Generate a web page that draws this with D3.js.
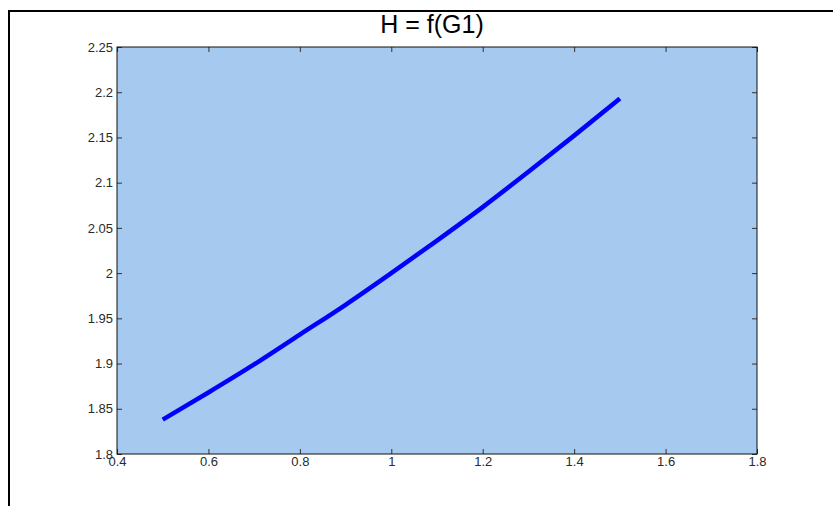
<!DOCTYPE html>
<html>
<head>
<meta charset="utf-8">
<script src="https://cdn.jsdelivr.net/npm/d3@7"></script>
<style>
  body { margin: 0; background: #fff; }
  svg { display: block; }
  .tick text { font-family: "Liberation Sans", Arial, sans-serif; font-size: 13px; fill: #2a2a2a; }
</style>
</head>
<body>
<div id="chart"></div>
<script>
// Values
const gValues = [0.5, 0.6, 0.7, 0.8, 0.9, 1.0, 1.1, 1.2, 1.3, 1.4, 1.5];
const hValues = [1.838, 1.868, 1.899, 1.932, 1.965, 2.000, 2.036, 2.073, 2.112, 2.152, 2.193];
const xTicks = [0.4, 0.6, 0.8, 1, 1.2, 1.4, 1.6, 1.8];
const yTicks = [1.8, 1.85, 1.9, 1.95, 2, 2.05, 2.1, 2.15, 2.2, 2.25];
const title = "H = f(G1)";

const width = 833, height = 506;
const margin = { top: 47, right: 76, bottom: 52, left: 117 };

const svg = d3.select("#chart")
    .append("svg")
    .attr("width", width)
    .attr("height", height);

// outer figure frame (runs off the right/bottom edge)
svg.append("rect")
    .attr("x", 9).attr("y", 11)
    .attr("width", 900).attr("height", 600)
    .attr("fill", "none")
    .attr("stroke", "#000")
    .attr("stroke-width", 2);

const x = d3.scaleLinear().domain([0.4, 1.8]).range([margin.left, width - margin.right]);
const y = d3.scaleLinear().domain([1.8, 2.25]).range([height - margin.bottom, margin.top]);

// plot background
svg.append("rect")
    .attr("x", x(0.4)).attr("y", y(2.25))
    .attr("width", x(1.8) - x(0.4))
    .attr("height", y(1.8) - y(2.25))
    .attr("fill", "#a6c9ef");

const fmt = d => String(+d.toFixed(2));

// bottom + left axes with inward ticks
svg.append("g")
    .attr("transform", `translate(0,${y(1.8)})`)
    .call(d3.axisBottom(x).tickValues(xTicks).tickFormat(fmt).tickSizeInner(-5).tickSizeOuter(0).tickPadding(3))
    .call(g => g.select(".domain").remove());

svg.append("g")
    .attr("transform", `translate(${x(0.4)},0)`)
    .call(d3.axisLeft(y).tickValues(yTicks).tickFormat(fmt).tickSizeInner(-5).tickSizeOuter(0).tickPadding(4))
    .call(g => g.select(".domain").remove());

// top + right ticks, no labels
svg.append("g")
    .attr("transform", `translate(0,${y(2.25)})`)
    .call(d3.axisTop(x).tickValues(xTicks).tickFormat("").tickSizeInner(-5).tickSizeOuter(0))
    .call(g => g.select(".domain").remove());

svg.append("g")
    .attr("transform", `translate(${x(1.8)},0)`)
    .call(d3.axisRight(y).tickValues(yTicks).tickFormat("").tickSizeInner(-5).tickSizeOuter(0))
    .call(g => g.select(".domain").remove());

svg.selectAll(".tick line").attr("stroke", "#333");

// axes box
svg.append("rect")
    .attr("x", x(0.4)).attr("y", y(2.25))
    .attr("width", x(1.8) - x(0.4))
    .attr("height", y(1.8) - y(2.25))
    .attr("fill", "none")
    .attr("stroke", "#111")
    .attr("stroke-width", 1);

// the curve
const line = d3.line()
    .x((d, i) => x(gValues[i]))
    .y(d => y(d))
    .curve(d3.curveMonotoneX);

svg.append("path")
    .datum(hValues)
    .attr("d", line)
    .attr("fill", "none")
    .attr("stroke", "#0000ff")
    .attr("stroke-width", 4.5);

// title
svg.append("text")
    .attr("x", 432)
    .attr("y", 33)
    .attr("text-anchor", "middle")
    .attr("font-family", "Liberation Sans, Arial, sans-serif")
    .attr("font-size", 25)
    .attr("fill", "#000")
    .text(title);
</script>
</body>
</html>
